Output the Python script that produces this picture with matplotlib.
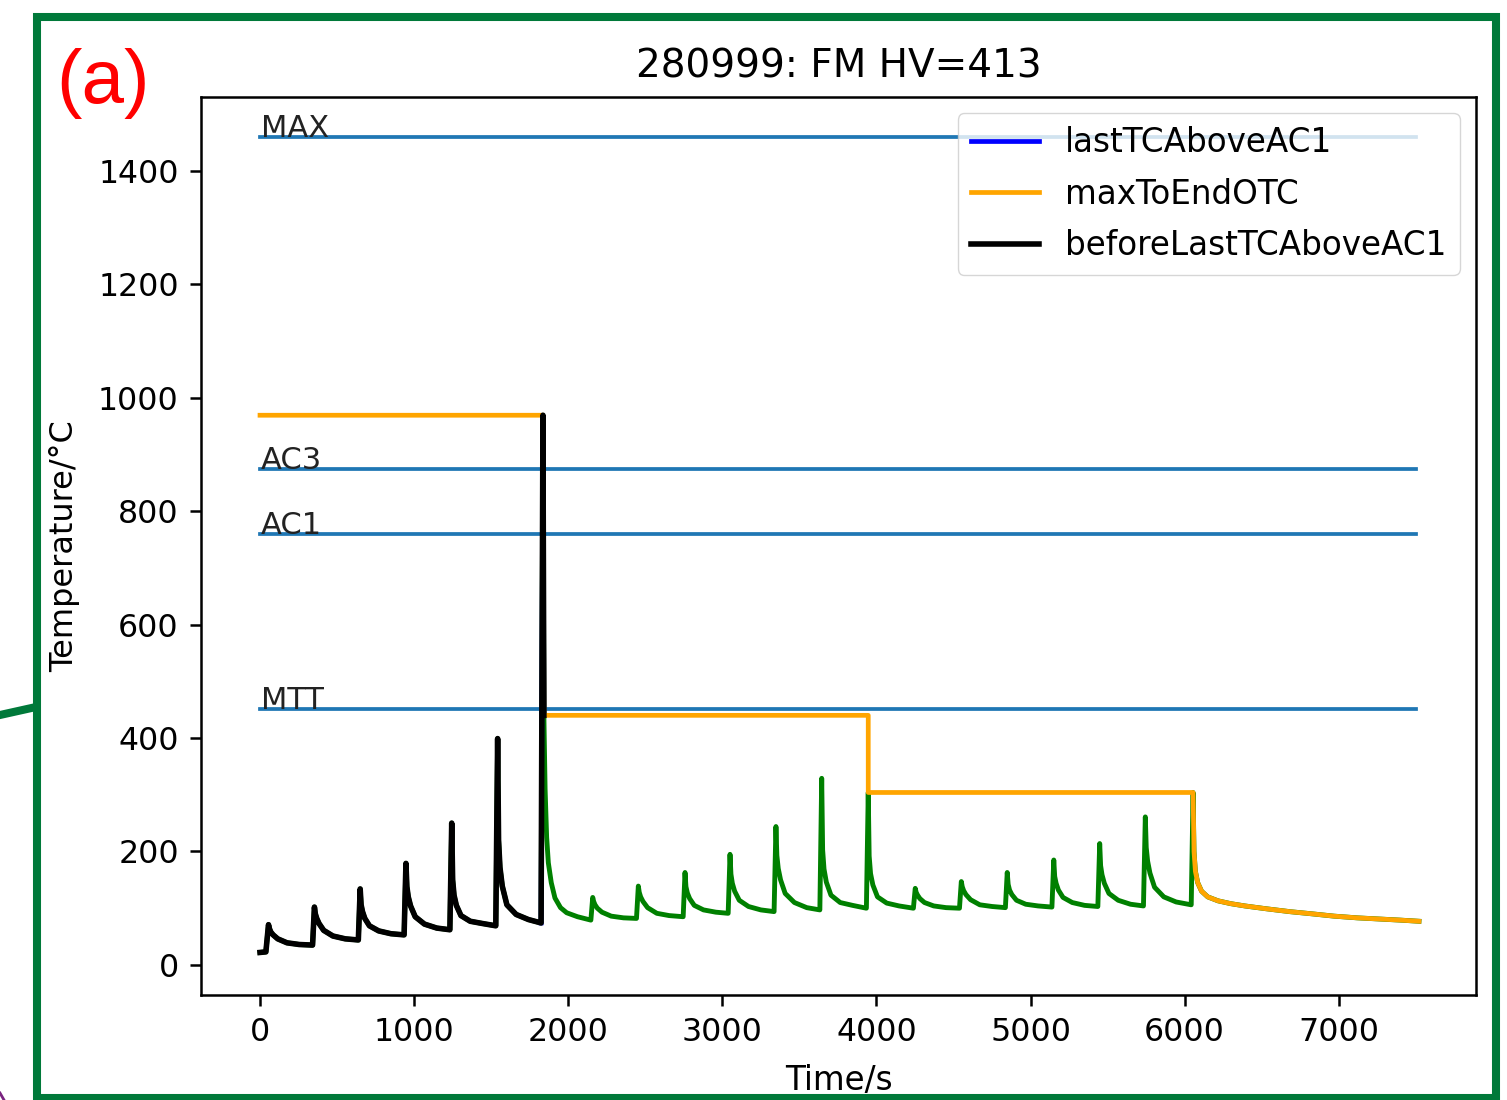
import numpy as np
import matplotlib
matplotlib.use("Agg")
import matplotlib.pyplot as plt
from matplotlib.lines import Line2D
from matplotlib.patches import Rectangle

# thermal history of one weld pass sequence (time in s, temperature in degC)
time_s = [
    0, 38,
    55, 61, 70, 85, 115, 175, 255, 341,
    353, 359, 368, 383, 413, 473, 553, 638,
    650, 656, 665, 680, 710, 770, 850, 935,
    947, 953, 962, 977, 1007, 1067, 1147, 1232,
    1244, 1250, 1259, 1274, 1304, 1364, 1444, 1530,
    1542, 1548, 1557, 1572, 1602, 1662, 1742, 1824,
    1836, 1842, 1850, 1860, 1871, 1890, 1914, 1950, 1990, 2060, 2147,
    2159, 2165, 2174, 2189, 2219, 2279, 2359, 2443,
    2455, 2461, 2470, 2485, 2515, 2575, 2655, 2746,
    2758, 2764, 2773, 2788, 2818, 2878, 2958, 3038,
    3050, 3056, 3065, 3080, 3110, 3170, 3250, 3336,
    3348, 3354, 3363, 3378, 3408, 3468, 3548, 3633,
    3645, 3651, 3660, 3675, 3705, 3765, 3845, 3935,
    3947, 3953, 3962, 3977, 4007, 4067, 4147, 4240,
    4252, 4258, 4267, 4282, 4312, 4372, 4452, 4539,
    4551, 4557, 4566, 4581, 4611, 4671, 4751, 4837,
    4849, 4855, 4864, 4879, 4909, 4969, 5049, 5139,
    5151, 5157, 5166, 5181, 5211, 5271, 5351, 5437,
    5449, 5455, 5464, 5479, 5509, 5569, 5649, 5733,
    5745, 5751, 5760, 5775, 5805, 5865, 5945, 6043,
    6055, 6061, 6070, 6085, 6110, 6150, 6217, 6300, 6391, 6530,
    6681, 6830, 6971, 7120, 7261, 7400, 7521,
]
temp_c = [
    22, 23,
    71, 64, 58, 53, 46, 39, 36, 35,
    102, 90, 82, 73, 61, 51, 46, 44,
    134, 106, 94, 82, 69, 60, 55, 53,
    179, 138, 120, 104, 85, 72, 65, 62,
    250, 150, 123, 105, 87, 77, 73, 69,
    399, 220, 172, 139, 106, 89, 80, 74,
    969, 440, 310, 225, 180, 145, 118, 101, 92, 85, 79,
    119, 112, 106, 100, 93, 86, 83, 82,
    139, 128, 120, 112, 101, 91, 87, 85,
    163, 138, 127, 117, 105, 97, 93, 91,
    195, 160, 144, 130, 114, 103, 97, 94,
    244, 193, 170, 150, 126, 110, 101, 97,
    329, 203, 169, 146, 123, 110, 105, 100,
    304, 192, 161, 141, 120, 109, 104, 100,
    135, 128, 123, 117, 110, 104, 101, 100,
    147, 138, 131, 124, 115, 106, 103, 101,
    163, 142, 132, 124, 114, 107, 104, 102,
    185, 156, 144, 132, 119, 110, 105, 103,
    214, 175, 159, 144, 126, 114, 107, 104,
    261, 207, 183, 162, 137, 120, 111, 106,
    304, 200, 165, 145, 130, 120, 113, 108, 104, 99,
    94, 90, 86, 83, 81, 79, 77,
]

# critical temperatures
level_names = ["MAX", "AC3", "AC1", "MTT"]
level_values = [1460, 874, 760, 451]
level_span = [0, 7500]

# stepped max-to-end envelope before the final cooling tail
max_step_t = [0, 1836, 1842, 3947, 3947, 6055]
max_step_c = [969, 969, 440, 440, 304, 304]

last_tc_start = 1824
last_tc_end = 1842
tail_start = 6055

t = np.array(time_s)
T = np.array(temp_c)

fig = plt.figure(figsize=(15.07, 11.0), dpi=100)
ax = fig.add_axes([201 / 1507, 1 - 995 / 1100, 1275 / 1507, 898 / 1100])

for name, val in zip(level_names, level_values):
    ax.plot(level_span, [val, val], color="tab:blue", lw=2.7)
    ax.text(5, val, name, fontsize=22, color="#222222")

ax.plot(t, T, color="green", lw=3.5)

sel = (t >= last_tc_start) & (t <= last_tc_end)
ax.plot(t[sel], T[sel], color="blue", lw=3.4, label="lastTCAboveAC1")

tail = t >= tail_start
ax.plot(np.concatenate([max_step_t, t[tail]]),
        np.concatenate([max_step_c, T[tail]]),
        color="orange", lw=3.4, label="maxToEndOTC")

before = t <= last_tc_end
ax.plot(t[before], T[before], color="black", lw=4.0, label="beforeLastTCAboveAC1")

ax.set_xlim(-383, 7891)
ax.set_ylim(-53, 1530)
ax.set_title("280999: FM HV=413", fontsize=28, pad=14)
ax.set_xlabel("Time/s", fontsize=23.5)
ax.set_ylabel("Temperature/°C", fontsize=23)
ax.xaxis.set_label_coords(0.5, -0.0768)
ax.yaxis.set_label_coords(-0.095, 0.5)
ax.tick_params(labelsize=22.8, length=8, width=1.8, pad=8)
for sp in ax.spines.values():
    sp.set_linewidth(1.8)
ax.legend(loc="upper right", fontsize=23.5, handlelength=2.1, labelspacing=0.56)

# panel frame, connector and label
green = "#00793a"
fig.add_artist(Rectangle((36.5 / 1507, 1 - 1098 / 1100), 1459 / 1507, 1081 / 1100,
                         transform=fig.transFigure, fill=False, ec=green, lw=5.8))
fig.add_artist(Line2D([0, 36 / 1507], [1 - 715 / 1100, 1 - 707 / 1100],
                      transform=fig.transFigure, color=green, lw=5.8))
fig.add_artist(Line2D([0, 4 / 1507], [1 - 1093 / 1100, 1 - 1100 / 1100],
                      transform=fig.transFigure, color="#7a2380", lw=2.0))
fig.text(56 / 1507, 1 - 103 / 1100, "(a)", color="red", fontsize=55,
         family="Liberation Sans", va="baseline")

fig.savefig("out.png", dpi=100)
